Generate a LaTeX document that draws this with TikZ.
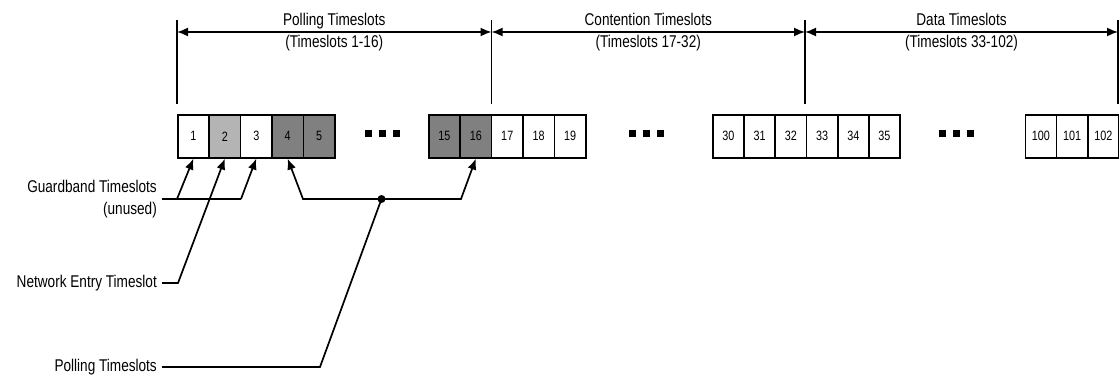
\documentclass[tikz,border=0pt]{standalone}
\usepackage{fontspec}
\setmainfont{Liberation Sans}[FakeStretch=0.8]
\usetikzlibrary{arrows.meta}
\definecolor{slotlight}{RGB}{180,180,180}
\definecolor{slotdark}{RGB}{128,128,128}

\begin{document}
\begin{tikzpicture}[x=1pt,y=-1pt,
	slot/.style={draw,line width=1.6pt,minimum width=31.3pt,minimum height=43pt,inner sep=0pt,anchor=north west,font=\fontsize{13.5}{15}\selectfont},
	dotbox/.style={fill=black,minimum size=7pt,inner sep=0pt},
	spanlabel/.style={font=\fontsize{17}{22}\selectfont,align=center},
	sidetext/.style={font=\fontsize{17}{22}\selectfont,align=right,anchor=east,inner sep=5pt},
	span/.style={{Latex[length=11pt,width=9pt]}-{Latex[length=11pt,width=9pt]},line width=1.6pt},
	wire/.style={line width=1.7pt},
	ptr/.style={wire,-{Latex[length=11pt,width=9pt]}},
	junction/.style={circle,fill=black,minimum size=8pt,inner sep=0pt}]
	\useasboundingbox (0,0) rectangle (1119,379);
	% timeslot boxes
	\foreach \n/\c [count=\i from 0] in {1/white,2/slotlight,3/white,4/slotdark,5/slotdark}
		\node[slot,fill=\c] (s\n) at ({177+\i*31.4},114) {\n};
	\foreach \n/\c [count=\i from 0] in {15/slotdark,16/slotdark,17/white,18/white,19/white}
		\node[slot,fill=\c] (s\n) at ({428+\i*31.4},114) {\n};
	\foreach \n [count=\i from 0] in {30,...,35}
		\node[slot] (s\n) at ({712+\i*31.2},114) {\n};
	\foreach \n [count=\i from 0] in {100,101,102}
		\node[slot] (s\n) at ({1024.5+\i*31.2},114) {\n};
	% gaps
	\foreach \g/\x in {a/368.5,b/632.5,c/942.5}
		\foreach \k in {0,1,2}
			\node[dotbox] (dot\g\k) at ({\x+\k*14},133.5) {};
	% ranges on top
	\foreach \t/\x in {t0/177,t1/491.5,t2/805,t3/1118} {
		\coordinate (\t top) at (\x,20);
		\coordinate (\t mid) at (\x,32);
		\coordinate (\t bot) at (\x,104);
		\draw[line width=1.5pt] (\t top) -- (\t bot);
	}
	\draw[span] (t0mid) -- node[spanlabel] (rangepoll) {Polling Timeslots\\(Timeslots 1-16)} (t1mid);
	\draw[span] (t1mid) -- node[spanlabel] (rangecont) {Contention Timeslots\\(Timeslots 17-32)} (t2mid);
	\draw[span] (t2mid) -- node[spanlabel] (rangedata) {Data Timeslots\\(Timeslots 33-102)} (t3mid);
	% callouts
	\node[sidetext] (guard) at (162,199) {Guardband Timeslots\\(unused)};
	\node[sidetext] (entry) at (162,283) {Network Entry Timeslot};
	\node[sidetext] (poll) at (162,367) {Polling Timeslots};
	\coordinate (g1) at (177,199);
	\coordinate (g3) at (241,199);
	\coordinate (e1) at (178,283);
	\coordinate (p1) at (320,367);
	\coordinate (p4) at (303,199);
	\coordinate (p16) at (461,199);
	\node[junction] (pj) at (381.5,199) {};
	\draw[wire] (guard.east) -- (g3);
	\draw[ptr] (g1) -- (s1.south);
	\draw[ptr] (g3) -- (s3.south);
	\draw[ptr] (entry.east) -- (e1) -- (s2.south);
	\draw[wire] (poll.east) -- (p1) -- (pj.center);
	\draw[ptr] (pj.center) -- (p4) -- (s4.south);
	\draw[ptr] (pj.center) -- (p16) -- (s16.south);
\end{tikzpicture}
\end{document}
